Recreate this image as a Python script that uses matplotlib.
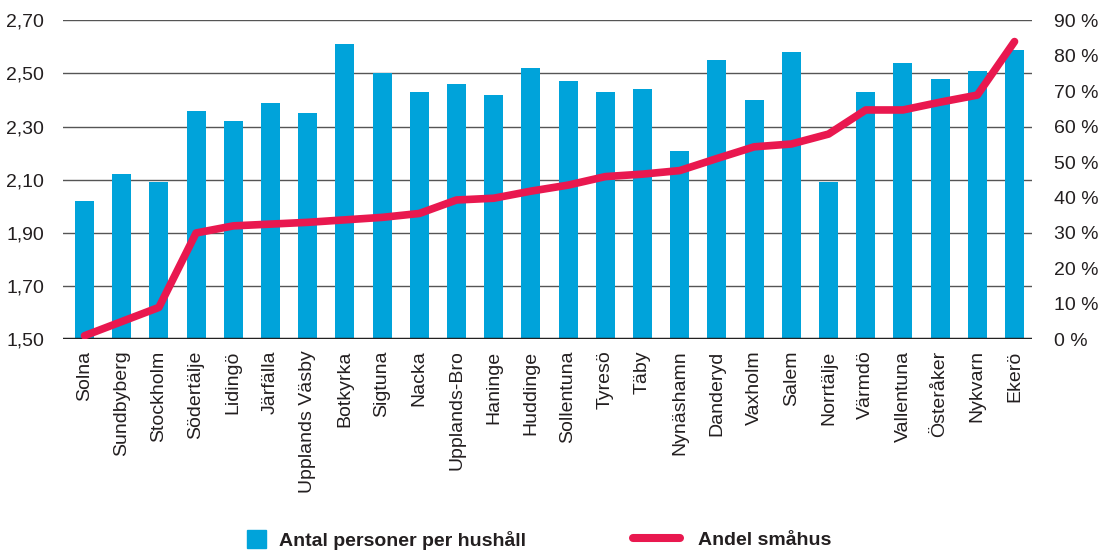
import numpy as np
import matplotlib.pyplot as plt
from matplotlib.patches import Patch
from matplotlib.lines import Line2D

plt.rcParams['font.family'] = ['Liberation Sans', 'DejaVu Sans']

# municipalities, sorted by share of small houses
kommuner = ["Solna", "Sundbyberg", "Stockholm", "Södertälje", "Lidingö", "Järfälla",
            "Upplands Väsby", "Botkyrka", "Sigtuna", "Nacka", "Upplands-Bro", "Haninge",
            "Huddinge", "Sollentuna", "Tyresö", "Täby", "Nynäshamn", "Danderyd",
            "Vaxholm", "Salem", "Norrtälje", "Värmdö", "Vallentuna", "Österåker",
            "Nykvarn", "Ekerö"]

# persons per household (left axis)
personer = [2.02, 2.12, 2.09, 2.36, 2.32, 2.39, 2.35, 2.61, 2.50, 2.43, 2.46, 2.42,
            2.52, 2.47, 2.43, 2.44, 2.21, 2.55, 2.40, 2.58, 2.09, 2.43, 2.54, 2.48,
            2.51, 2.59]

# share of small houses, percent (right axis)
smahus = [1, 5, 9, 30, 32, 32.5, 33, 33.7, 34.4, 35.5, 39.3, 39.8, 41.8, 43.5,
          45.9, 46.6, 47.6, 51, 54.3, 55.1, 57.9, 64.7, 64.7, 66.9, 68.9, 84]

left_ticks = [1.50, 1.70, 1.90, 2.10, 2.30, 2.50, 2.70]
right_ticks = [0, 10, 20, 30, 40, 50, 60, 70, 80, 90]

blue = "#00a3da"
red = "#e9184f"
txt = "#231f20"
fs = 14

fig = plt.figure(figsize=(11.04, 5.53), dpi=100)
ax = fig.add_axes([62.7 / 1104, 1 - 339.3 / 553, (1032 - 62.7) / 1104, (339.3 - 20.3) / 553])

x = np.arange(len(kommuner))
ax.bar(x, [p - 1.5 for p in personer], bottom=1.5, width=0.51, color=blue, zorder=2)
ax.set_xlim(-0.586, len(kommuner) - 1 + 0.47)
ax.set_ylim(1.5, 2.7)
ax.set_yticks(left_ticks)
ax.set_yticklabels([f"{v:.2f}".replace(".", ",") for v in left_ticks])
for v in left_ticks[1:]:
    ax.axhline(v, color="#555555", lw=1.0, zorder=1)
ax.axhline(1.5, color="#222222", lw=2.5, zorder=4)

ax.set_xticks(x)
ax.set_xticklabels(kommuner, rotation=90)
ax.tick_params(axis="x", length=0, pad=8, labelsize=fs, labelcolor=txt)
ax.tick_params(axis="y", length=0, pad=13.5, labelsize=fs, labelcolor=txt)
for s in ax.spines.values():
    s.set_visible(False)

ax2 = ax.twinx()
ax2.plot(x, smahus, color=red, lw=5.5, solid_capstyle="round", solid_joinstyle="round", zorder=5)
ax2.set_ylim(0, 90)
ax2.set_yticks(right_ticks)
ax2.set_yticklabels([f"{v} %" for v in right_ticks])
ax2.tick_params(axis="y", length=0, pad=16, labelsize=fs, labelcolor=txt)
for s in ax2.spines.values():
    s.set_visible(False)

# legend, two parts with different handle lengths
fig.legend(handles=[Patch(color=blue)], labels=["Antal personer per hushåll"],
           loc="center left", bbox_to_anchor=(246.7 / 1104, 1 - 540 / 553),
           frameon=False, borderpad=0, borderaxespad=0, handlelength=0.98,
           handleheight=0.98, handletextpad=0.7,
           prop={"weight": "bold", "size": fs})
fig.legend(handles=[Line2D([], [], color=red, lw=5.8, solid_capstyle="round")],
           labels=["Andel småhus"], loc="center left",
           bbox_to_anchor=(633 / 1104, 1 - 540 / 553), frameon=False, borderpad=0,
           borderaxespad=0, handlelength=2.42, handletextpad=0.94,
           prop={"weight": "bold", "size": fs})
for leg in fig.legends:
    for t in leg.get_texts():
        t.set_color(txt)

fig.savefig("out.png", dpi=100)
